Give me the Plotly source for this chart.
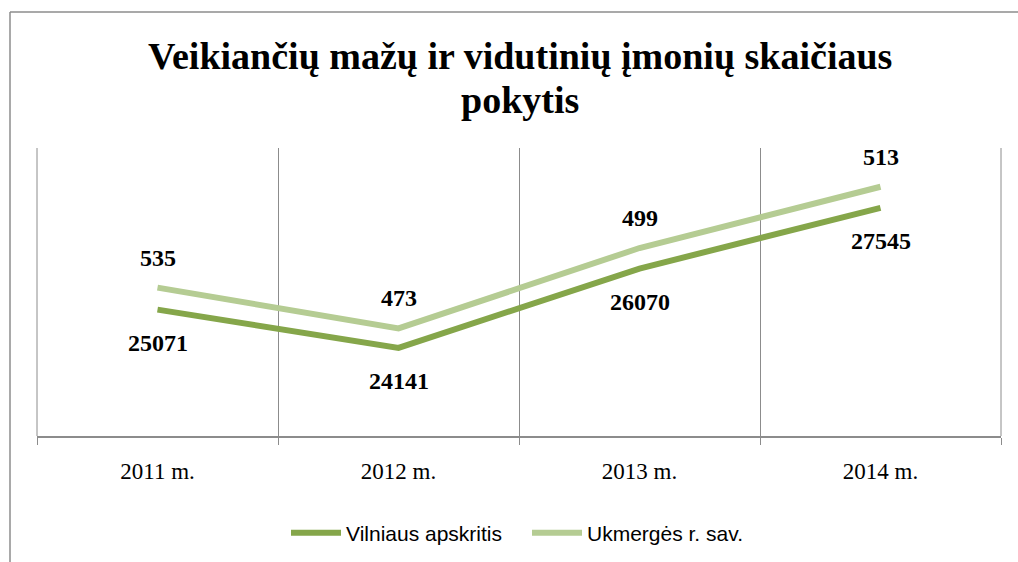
import plotly.graph_objects as go

categories = ["2011 m.", "2012 m.", "2013 m.", "2014 m."]
vilnius = [25071, 24141, 26070, 27545]
ukmerge = [535, 473, 499, 513]
series_names = ["Vilniaus apskritis", "Ukmergės r. sav."]
title_lines = ["Veikiančių mažų ir vidutinių įmonių skaičiaus", "pokytis"]

dark = "#85A64A"
light = "#B5CC93"
grid = "#8C8C8C"
serif = "Liberation Serif, Times New Roman, serif"

# Excel stacked line: second series drawn on top of the first
stacked = [v + u for v, u in zip(vilnius, ukmerge)]

W, H = 1018, 562
L, R, T, B = 37, 17, 148, 126
pw = W - L - R
ph = H - T - B


def px_x(p):
    return (p - L) / pw


def px_y(p):
    return (H - B - p) / ph


fig = go.Figure()
fig.add_trace(go.Scatter(x=categories, y=vilnius, mode="lines", name=series_names[0],
                         line=dict(color=dark, width=6), hoverinfo="skip"))
fig.add_trace(go.Scatter(x=categories, y=stacked, mode="lines", name=series_names[1],
                         line=dict(color=light, width=6), hoverinfo="skip"))

label_font = dict(family=serif, size=24, color="black")
ann = []
for c, v in zip(categories, vilnius):
    ann.append(dict(x=c, y=v, text="<b>%d</b>" % v, showarrow=False, yshift=-33,
                    font=label_font, xref="x", yref="y"))
for c, s, u in zip(categories, stacked, ukmerge):
    ann.append(dict(x=c, y=s, text="<b>%d</b>" % u, showarrow=False, yshift=30,
                    font=label_font, xref="x", yref="y"))

title_font = dict(family=serif, size=38, color="black")
for line, yc in zip(title_lines, [56, 100]):
    ann.append(dict(x=px_x(520), y=px_y(yc), xref="paper", yref="paper", text="<b>%s</b>" % line,
                    showarrow=False, xanchor="center", yanchor="middle", font=title_font))

shapes = [
    dict(type="line", xref="paper", yref="paper", x0=px_x(10), x1=px_x(10), y0=px_y(12), y1=px_y(580),
         line=dict(color=grid, width=1.5)),
    dict(type="line", xref="paper", yref="paper", x0=px_x(10), x1=px_x(1040), y0=px_y(12), y1=px_y(12),
         line=dict(color=grid, width=1.5)),
    dict(type="line", xref="paper", yref="paper", x0=0, x1=0, y0=0, y1=1, line=dict(color=grid, width=1)),
    dict(type="line", xref="paper", yref="paper", x0=1, x1=1, y0=0, y1=1, line=dict(color=grid, width=1)),
]

fig.update_layout(
    width=W, height=H,
    margin=dict(l=L, r=R, t=T, b=B, autoexpand=False),
    paper_bgcolor="white", plot_bgcolor="white",
    xaxis=dict(type="category", tickson="boundaries", showgrid=True, gridcolor=grid,
               gridwidth=1, showline=True, linecolor=grid, linewidth=1.5,
               ticks="outside", ticklen=7, tickcolor=grid, range=[-0.5, 3.5],
               ticklabelstandoff=14,
               tickfont=dict(family=serif, size=23, color="black"),
               zeroline=False, fixedrange=True, automargin=False),
    yaxis=dict(range=[22000, 29000], visible=False, showgrid=False, zeroline=False, fixedrange=True),
    showlegend=True,
    legend=dict(orientation="h", x=px_x(286), xanchor="left", y=px_y(533), yanchor="middle",
                font=dict(family="Liberation Sans, Arial, sans-serif", size=21, color="black"),
                itemwidth=50, entrywidth=176, bgcolor="rgba(0,0,0,0)"),
    annotations=ann,
    shapes=shapes,
)

fig.write_html("out.html", config={"displayModeBar": False, "staticPlot": True},
               post_script="document.body.style.margin='0px';")
